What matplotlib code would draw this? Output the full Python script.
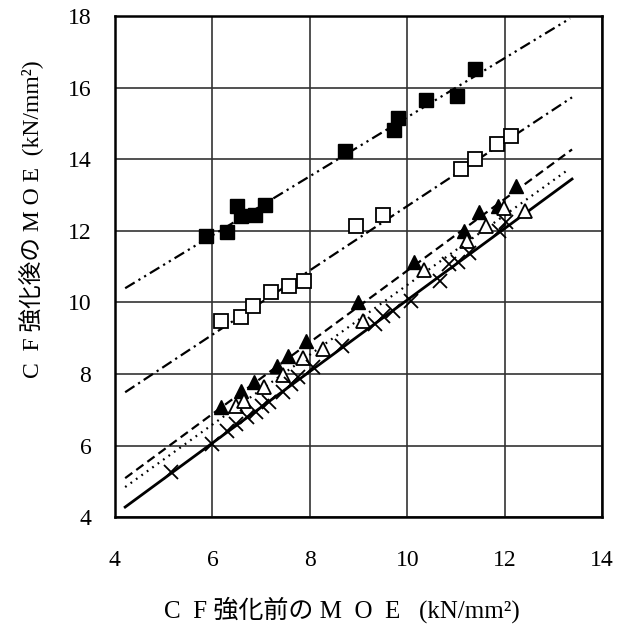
import matplotlib.pyplot as plt

plt.rcParams['font.family'] = ['Liberation Serif', 'Noto Sans CJK JP']

# CF強化前 / 強化後 のMOE (kN/mm2)
sq_fill_x = [5.86, 6.30, 6.50, 6.59, 6.88, 7.08, 8.72, 9.72, 9.80, 10.38, 11.02, 11.39]
sq_fill_y = [11.85, 11.96, 12.69, 12.41, 12.44, 12.72, 14.22, 14.81, 15.17, 15.65, 15.76, 16.54]

sq_open_x = [6.17, 6.59, 6.84, 7.21, 7.58, 7.89, 8.95, 9.51, 11.10, 11.39, 11.85, 12.12]
sq_open_y = [9.47, 9.59, 9.89, 10.28, 10.45, 10.59, 12.13, 12.44, 13.72, 14.00, 14.42, 14.64]

tri_fill_x = [6.17, 6.59, 6.86, 7.33, 7.56, 7.93, 8.99, 10.13, 11.16, 11.47, 11.87, 12.24]
tri_fill_y = [7.07, 7.52, 7.77, 8.22, 8.50, 8.92, 10.00, 11.12, 11.99, 12.52, 12.69, 13.25]

tri_open_x = [6.48, 6.65, 7.06, 7.44, 7.85, 8.26, 9.09, 10.34, 11.22, 11.62, 11.99, 12.41]
tri_open_y = [7.10, 7.24, 7.63, 7.97, 8.44, 8.69, 9.47, 10.90, 11.71, 12.13, 12.63, 12.55]

cross_x = [5.16, 5.99, 6.30, 6.48, 6.71, 6.90, 7.02, 7.17, 7.44, 7.62, 7.75, 8.06,
           8.66, 9.34, 9.51, 9.71, 10.07, 10.67, 10.85, 11.04, 11.27, 11.89, 12.03]
cross_y = [5.26, 6.04, 6.40, 6.60, 6.79, 6.93, 7.10, 7.21, 7.49, 7.72, 7.91, 8.19,
           8.78, 9.39, 9.61, 9.75, 10.03, 10.59, 11.07, 11.12, 11.37, 11.99, 12.24]

# 回帰直線 y = a*x + b
fit_a = [0.826, 0.899, 1.002, 0.976, 1.000]
fit_b = [6.92, 3.705, 0.87, 0.73, 0.07]
fit_x0 = [4.21, 4.21, 4.21, 4.21, 4.21]
fit_x1 = [13.34, 13.38, 13.38, 13.28, 13.38]

fig = plt.figure(figsize=(6.28, 6.26), dpi=100)
ax = fig.add_axes([0.183, 0.174, 0.776, 0.800])

dash_styles = [(0, (5, 2, 1, 2, 1, 2)), (0, (5, 2, 1, 2)), (0, (4, 2.2)),
               (0, (0.8, 2.2)), '-']
widths = [1.6, 1.6, 1.6, 1.6, 2.0]
for a, b, x0, x1, ls, lw in zip(fit_a, fit_b, fit_x0, fit_x1, dash_styles, widths):
    ax.plot([x0, x1], [a * x0 + b, a * x1 + b], color='black', linestyle=ls, lw=lw)

ax.plot(sq_fill_x, sq_fill_y, 's', ms=10, color='black', mec='black')
ax.plot(sq_open_x, sq_open_y, 's', ms=9.5, mfc='white', mec='black', mew=1.3)
ax.plot(tri_fill_x, tri_fill_y, '^', ms=10.5, color='black')
ax.plot(tri_open_x, tri_open_y, '^', ms=10.5, mfc='white', mec='black', mew=1.3)
ax.plot(cross_x, cross_y, 'x', ms=10, color='black', mew=1.3)

ax.set_xlim(4, 14)
ax.set_ylim(4, 18)
ax.set_xticks([4, 6, 8, 10, 12, 14])
ax.set_yticks([4, 6, 8, 10, 12, 14, 16, 18])
ax.grid(True, color='#333333', lw=1.2)
ax.set_axisbelow(True)
for s in ax.spines.values():
    s.set_linewidth(1.8)
ax.tick_params(length=0, labelsize=17)
ax.tick_params(axis='y', pad=17)
ax.tick_params(axis='x', pad=24)

ax.set_xlabel('C  F 強化前の M  O  E   (kN/mm²)', fontsize=18)
ax.set_ylabel('C  F 強化後の M O E  (kN/mm²)', fontsize=17)
ax.xaxis.set_label_coords(0.466, -0.158)
ax.yaxis.set_label_coords(-0.145, 0.595)

fig.savefig('out.png', dpi=100)
